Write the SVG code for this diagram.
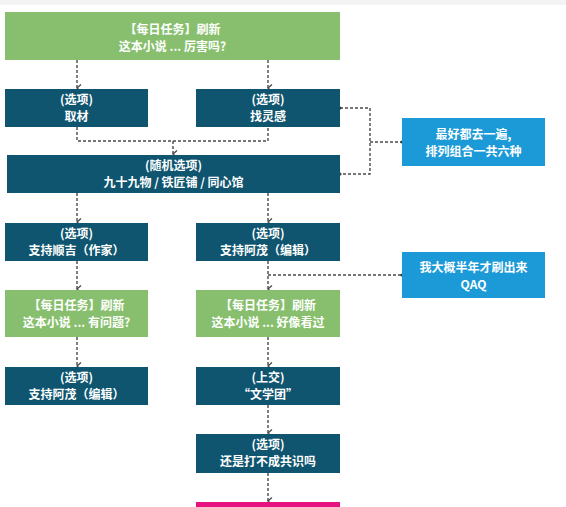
<svg xmlns="http://www.w3.org/2000/svg" width="566" height="507" viewBox="0 0 566 507">
<defs>
<marker id="arr" markerWidth="8" markerHeight="6" refX="4" refY="5" orient="auto-start-reverse" markerUnits="userSpaceOnUse" viewBox="0 0 8 6">
<path d="M0.5,1 L4,5 L7.5,1" fill="none" stroke="#4a4a4a" stroke-width="1.3"/>
</marker>
<marker id="dot" markerWidth="4" markerHeight="4" refX="2" refY="2" viewBox="0 0 4 4" markerUnits="userSpaceOnUse">
<circle cx="2" cy="2" r="1.6" fill="#3a3a3a"/>
</marker>
</defs>
<style>
.green{fill:#88bf6e}
.dark{fill:#0f5570}
.blue{fill:#1c9ad8}
.pink{fill:#e5127f}
text{font-family:"Noto Sans CJK SC","Noto Sans",sans-serif;font-size:12px;font-weight:bold;fill:#ffffff;text-anchor:middle}
.c{fill:none;stroke:#4a4a4a;stroke-width:1.4;stroke-dasharray:3 2}
</style>
<rect x="0" y="0" width="566" height="507" fill="#ffffff"/>
<rect x="0" y="0" width="566" height="5" fill="#f3f3f3"/>
<g id="connectors">
<path class="c" d="M77,60 V88" marker-end="url(#arr)"/>
<path class="c" d="M268,60 V88" marker-end="url(#arr)"/>
<path class="c" d="M77,127 V141 H268 V127"/>
<path class="c" d="M173,141 V154" marker-end="url(#arr)"/>
<path class="c" d="M340,108 H370 V174 H340" marker-start="url(#dot)" marker-end="url(#dot)"/>
<path class="c" d="M370,142 H402" marker-end="url(#dot)"/>
<path class="c" d="M77,193 V222" marker-end="url(#arr)"/>
<path class="c" d="M268,193 V222" marker-end="url(#arr)"/>
<path class="c" d="M77,261 V289" marker-end="url(#arr)"/>
<path class="c" d="M268,261 V289" marker-end="url(#arr)"/>
<path class="c" d="M268,275 H402" marker-end="url(#dot)"/>
<path class="c" d="M77,337 V366" marker-end="url(#arr)"/>
<path class="c" d="M268,337 V366" marker-end="url(#arr)"/>
<path class="c" d="M268,405 V433" marker-end="url(#arr)"/>
<path class="c" d="M268,473 V501" marker-end="url(#arr)"/>
</g>
<g id="n-top"><rect class="green" x="5" y="12" width="335" height="48"/><text x="172.5" y="33.5">【每日任务】刷新</text><text x="172.5" y="51">这本小说 ... 厉害吗?</text></g>
<g id="n-qucai"><rect class="dark" x="5" y="89" width="143" height="38"/><text x="76.5" y="103.5">(选项)</text><text x="76.5" y="121">取材</text></g>
<g id="n-linggan"><rect class="dark" x="196" y="89" width="144" height="38"/><text x="268" y="103.5">(选项)</text><text x="268" y="121">找灵感</text></g>
<g id="n-random"><rect class="dark" x="7" y="155" width="333" height="38"/><text x="173.5" y="169.5">(随机选项)</text><text x="173.5" y="187">九十九物 / 铁匠铺 / 同心馆</text></g>
<g id="n-tip1"><rect class="blue" x="402" y="118" width="143" height="48"/><text x="473.5" y="138.5">最好都去一遍,</text><text x="473.5" y="156">排列组合一共六种</text></g>
<g id="n-shunji"><rect class="dark" x="5" y="223" width="143" height="38"/><text x="76.5" y="237.5">(选项)</text><text x="76.5" y="255">支持顺吉（作家）</text></g>
<g id="n-amao1"><rect class="dark" x="196" y="223" width="144" height="38"/><text x="268" y="237.5">(选项)</text><text x="268" y="255">支持阿茂（编辑）</text></g>
<g id="n-tip2"><rect class="blue" x="402" y="252" width="143" height="46"/><text x="473.5" y="271.5">我大概半年才刷出来</text><text x="473.5" y="289">QAQ</text></g>
<g id="n-wenti"><rect class="green" x="5" y="290" width="143" height="47"/><text x="76.5" y="309.5">【每日任务】刷新</text><text x="76.5" y="327">这本小说 ... 有问题?</text></g>
<g id="n-kanguo"><rect class="green" x="196" y="290" width="144" height="47"/><text x="268" y="309.5">【每日任务】刷新</text><text x="268" y="327">这本小说 ... 好像看过</text></g>
<g id="n-amao2"><rect class="dark" x="5" y="367" width="143" height="38"/><text x="76.5" y="381.5">(选项)</text><text x="76.5" y="399">支持阿茂（编辑）</text></g>
<g id="n-shangjiao"><rect class="dark" x="196" y="367" width="144" height="38"/><text x="268" y="381.5">(上交)</text><text x="268" y="399">“文学团”</text></g>
<g id="n-gongshi"><rect class="dark" x="196" y="434" width="144" height="39"/><text x="268" y="448.5">(选项)</text><text x="268" y="466">还是打不成共识吗</text></g>
<g id="n-pink"><rect class="pink" x="196" y="502" width="144" height="10"/></g>
</svg>
